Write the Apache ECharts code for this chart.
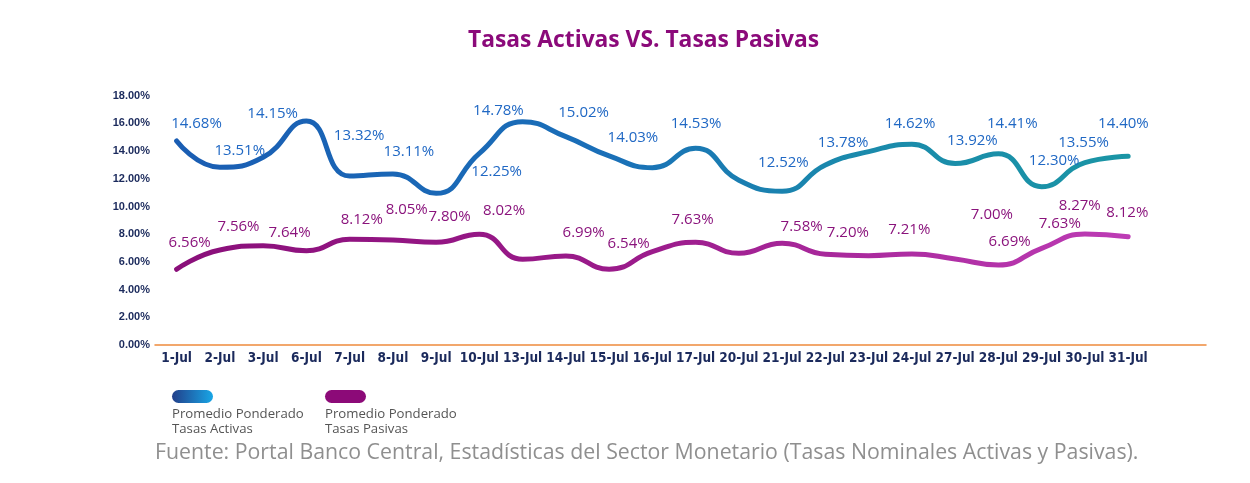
<!DOCTYPE html>
<html>
<head>
<meta charset="utf-8">
<script src="https://cdn.jsdelivr.net/npm/echarts@6/dist/echarts.min.js"></script>
<style>html,body{margin:0;padding:0;background:#fff}#c{width:1250px;height:483px}</style>
</head>
<body>
<div id="c"></div>
<script>
// ---- data ----
var categories = ['1-Jul','2-Jul','3-Jul','6-Jul','7-Jul','8-Jul','9-Jul','10-Jul','13-Jul','14-Jul','15-Jul','16-Jul','17-Jul','20-Jul','21-Jul','22-Jul','23-Jul','24-Jul','27-Jul','28-Jul','29-Jul','30-Jul','31-Jul'];
// line shapes as drawn (percent)
var activasLine = [14.73,12.83,13.55,16.17,12.2,12.35,10.95,13.84,16.12,15.04,13.65,12.8,14.2,11.9,11.1,13.0,13.96,14.5,13.1,13.8,11.43,13.17,13.62];
var pasivasLine = [5.47,6.86,7.17,6.81,7.63,7.58,7.41,8.0,6.19,6.43,5.47,6.74,7.41,6.62,7.34,6.55,6.45,6.57,6.21,5.78,6.98,8.01,7.82];
// printed data labels
var activasLabels = ['14.68%','13.51%','14.15%','13.32%','13.11%','12.25%','14.78%','15.02%','14.03%','14.53%','12.52%','13.78%','14.62%','13.92%','14.41%','12.30%','13.55%','14.40%'];
var pasivasLabels = ['6.56%','7.56%','7.64%','8.12%','8.05%','7.80%','8.02%','6.99%','6.54%','7.63%','7.58%','7.20%','7.21%','7.00%','6.69%','7.63%','8.27%','8.12%'];
var yTicks = [0,2,4,6,8,10,12,14,16,18];

// ---- layout (label anchor positions in axis units) ----
var activasLabelPos = [[0.46,16.01],[1.46,14.03],[2.22,16.73],[4.22,15.09],[5.37,13.96],[7.40,12.51],[7.44,16.92],[9.41,16.80],[10.55,15.00],[12.01,16.01],[14.03,13.16],[15.41,14.61],[16.96,16.01],[18.40,14.73],[19.32,16.01],[20.29,13.29],[20.97,14.61],[21.89,15.94]];
var pasivasLabelPos = [[0.30,7.39],[1.43,8.54],[2.61,8.07],[4.28,9.03],[5.32,9.75],[6.31,9.26],[7.57,9.68],[9.41,8.11],[10.45,7.34],[11.93,9.03],[14.45,8.54],[15.52,8.07],[16.94,8.30],[18.85,9.39],[19.26,7.42],[20.42,8.74],[20.88,10.04],[21.98,9.55]];

function pairs(arr){ return arr.map(function(v,i){ return [i,v]; }); }
function labelData(pos, txt){ return pos.map(function(p,i){ return {value:[p[0],p[1]], name:txt[i]}; }); }

var chart = echarts.init(document.getElementById('c'), null, {renderer:'canvas'});
var FONT = '"Open Sans", "Noto Sans", sans-serif';

chart.setOption({
  animation:false,
  backgroundColor:'#ffffff',
  title:{
    text:'Tasas Activas VS. Tasas Pasivas',
    left:463, top:24,
    textStyle:{color:'#8b0a7a', fontSize:22.8, fontWeight:'bold', fontFamily:FONT}
  },
  grid:{left:155, right:44, top:95.7, bottom:138, containLabel:false},
  xAxis:{
    type:'value', min:-0.5, max:23.8,
    splitLine:{show:false},
    axisLine:{show:true, onZero:false, lineStyle:{color:'#ee8a3c', width:1.5}},
    axisTick:{show:false},
    axisLabel:{
      customValues: categories.map(function(c,i){return i;}),
      formatter:function(v){ return categories[Math.round(v)] || ''; },
      color:'#1b2a5c', fontWeight:'bold', fontSize:13.5,
      fontFamily:'"Liberation Sans Narrow", "DejaVu Sans Condensed", "Liberation Sans", sans-serif',
      margin:6, hideOverlap:false, showMinLabel:true, showMaxLabel:true
    }
  },
  yAxis:{
    type:'value', min:0, max:18, interval:2,
    splitLine:{show:false},
    axisLine:{show:false}, axisTick:{show:false},
    axisLabel:{
      formatter:function(v){ return v.toFixed(2)+'%'; },
      color:'#1b2a5c', fontWeight:'bold', fontSize:11,
      fontFamily:'"Liberation Sans", "DejaVu Sans", sans-serif', margin:5
    }
  },
  series:[
    {
      name:'Promedio Ponderado Tasas Activas', type:'line', smooth:0.5, showSymbol:false,
      data:pairs(activasLine),
      lineStyle:{width:5, cap:'round', color:new echarts.graphic.LinearGradient(0,0,1,0,[
        {offset:0,color:'#1a5db3'},{offset:0.45,color:'#1a6fb8'},{offset:0.7,color:'#1a89ac'},{offset:1,color:'#1a95a5'}])},
      z:3
    },
    {
      name:'Promedio Ponderado Tasas Pasivas', type:'line', smooth:0.5, showSymbol:false,
      data:pairs(pasivasLine),
      lineStyle:{width:5, cap:'round', color:new echarts.graphic.LinearGradient(0,0,1,0,[
        {offset:0,color:'#8a0f7a'},{offset:0.5,color:'#9c1c8c'},{offset:1,color:'#bd3cb5'}])},
      z:3
    },
    {
      type:'scatter', symbolSize:1, itemStyle:{color:'rgba(0,0,0,0)', opacity:1}, silent:true,
      data:labelData(activasLabelPos, activasLabels),
      label:{show:true, position:'inside', formatter:'{b}', color:'#2068c4', opacity:1, fontSize:15, fontFamily:FONT},
      z:4
    },
    {
      type:'scatter', symbolSize:1, itemStyle:{color:'rgba(0,0,0,0)', opacity:1}, silent:true,
      data:labelData(pasivasLabelPos, pasivasLabels),
      label:{show:true, position:'inside', formatter:'{b}', color:'#8a137c', opacity:1, fontSize:15, fontFamily:FONT},
      z:4
    }
  ],
  graphic:[
    {type:'rect', shape:{x:172, y:390, width:41, height:13, r:6.5},
     style:{fill:new echarts.graphic.LinearGradient(0,0,1,0,[{offset:0,color:'#223f8a'},{offset:1,color:'#18a6e6'}])}},
    {type:'text', x:172, y:407, style:{text:'Promedio Ponderado\nTasas Activas', fill:'#555555', font:'13.2px "Open Sans", sans-serif', lineHeight:15}},
    {type:'rect', shape:{x:325, y:390, width:41, height:13, r:6.5}, style:{fill:'#8c0a78'}},
    {type:'text', x:325, y:407, style:{text:'Promedio Ponderado\nTasas Pasivas', fill:'#555555', font:'13.2px "Open Sans", sans-serif', lineHeight:15}},
    {type:'text', left:155, top:442, style:{text:'Fuente: Portal Banco Central, Estadísticas del Sector Monetario (Tasas Nominales Activas y Pasivas).', fill:'#8f8f8f', font:'21.3px "Open Sans", sans-serif'}}
  ]
});
</script>
</body>
</html>
